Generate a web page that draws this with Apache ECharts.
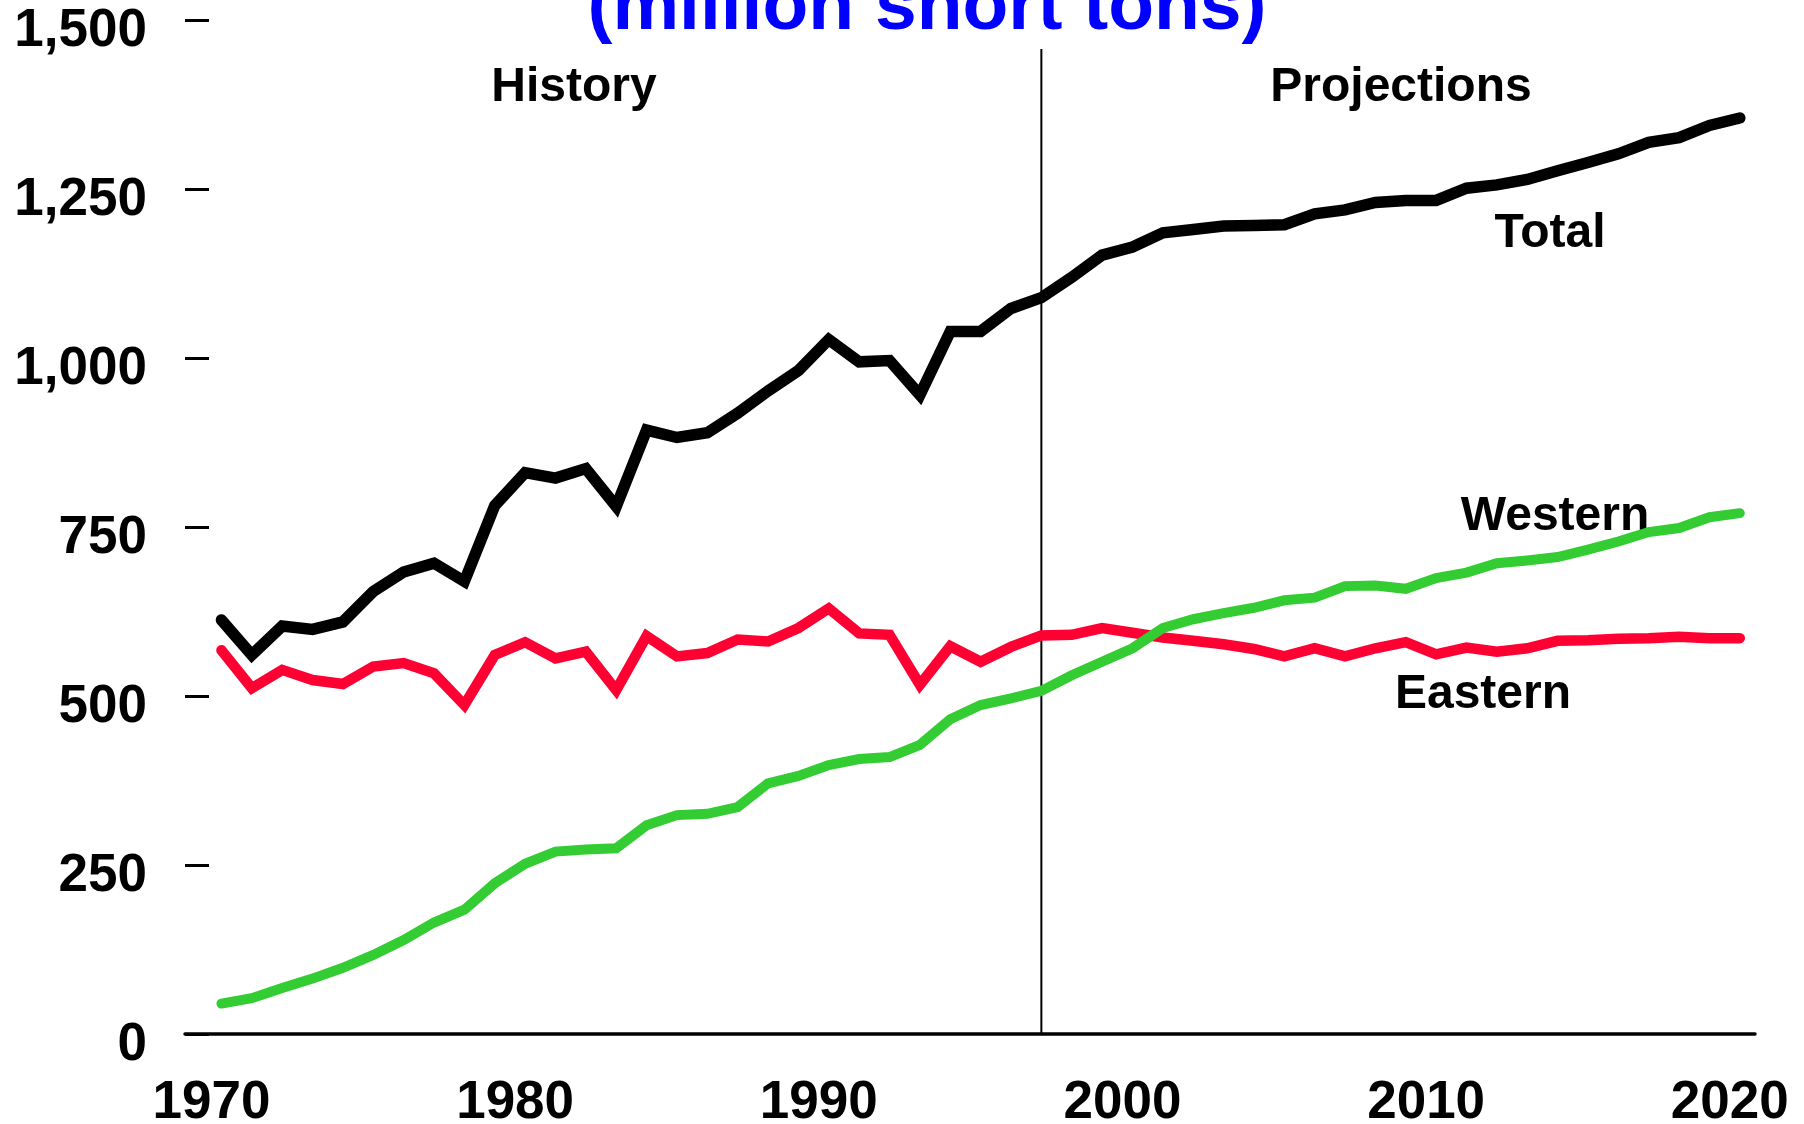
<!DOCTYPE html>
<html>
<head>
<meta charset="utf-8">
<title>Coal production by region</title>
<script src="https://cdn.jsdelivr.net/npm/echarts@6/dist/echarts.min.js"></script>
<style>
  html, body { margin: 0; padding: 0; background: #fff; }
  #main { width: 1804px; height: 1124px; }
</style>
</head>
<body>
<div id="main"></div>
<script>
// years 1970-1997 history, 1998-2020 projections
var years = [1970, 1971, 1972, 1973, 1974, 1975, 1976, 1977, 1978, 1979,
  1980, 1981, 1982, 1983, 1984, 1985, 1986, 1987, 1988, 1989,
  1990, 1991, 1992, 1993, 1994, 1995, 1996, 1997, 1998, 1999,
  2000, 2001, 2002, 2003, 2004, 2005, 2006, 2007, 2008, 2009,
  2010, 2011, 2012, 2013, 2014, 2015, 2016, 2017, 2018, 2019, 2020];

var total = [613, 561, 604, 599, 610, 655, 684, 697, 670, 782,
  831, 823, 837, 781, 894, 883, 890, 919, 952, 982,
  1028, 995, 997, 946, 1040, 1040, 1074, 1090, 1120, 1153,
  1165, 1186, 1191, 1196, 1197, 1198, 1214, 1220, 1231, 1234,
  1234, 1252, 1257, 1265, 1278, 1290, 1303, 1320, 1327, 1345, 1356];

var western = [45, 53, 68, 82, 98, 117, 139, 165, 184, 223,
  252, 270, 273, 275, 309, 324, 326, 336, 371, 382,
  398, 407, 410, 428, 466, 487, 497, 508, 531, 551,
  571, 601, 614, 623, 631, 642, 646, 663, 664, 659,
  675, 683, 697, 701, 706, 717, 729, 743, 749, 765, 771];

var eastern = [568, 512, 539, 524, 518, 544, 549, 534, 487, 561,
  580, 556, 566, 509, 589, 559, 564, 584, 581, 601,
  630, 593, 591, 517, 574, 551, 573, 590, 591, 601,
  594, 587, 582, 577, 570, 559, 571, 559, 571, 580,
  562, 572, 566, 571, 582, 583, 585, 586, 588, 586, 586];

var xLabels = [1970, 1980, 1990, 2000, 2010, 2020];
var splitYear = 1997;   // history / projections divider
var dividerTop = 1458;

var FONT = "'Liberation Sans', Arial, Helvetica, sans-serif";

function pairs(vals) {
  return years.map(function (y, i) { return [y, vals[i]]; });
}

function lineSeries(name, vals, color, width) {
  return {
    name: name,
    type: 'line',
    data: pairs(vals),
    showSymbol: false,
    symbol: 'none',
    silent: true,
    lineStyle: { color: color, width: width, cap: 'round', join: 'miter' }
  };
}

function txt(text, x, y, size, color) {
  return {
    type: 'text',
    x: x,
    y: y,
    silent: true,
    style: {
      text: text,
      fill: color || '#000',
      font: 'bold ' + size + 'px ' + FONT,
      align: 'center',
      verticalAlign: 'middle'
    }
  };
}

var chart = echarts.init(document.getElementById('main'));

var option = {
  backgroundColor: '#fff',
  animation: false,
  grid: {
    left: 185,
    right: 49,
    top: 20.7,
    bottom: 90,
    containLabel: false,
    outerBoundsMode: 'none'
  },
  xAxis: {
    type: 'value',
    min: 1968.8,
    max: 2020.5,
    axisLine: { show: true, lineStyle: { color: '#000', width: 3.5 } },
    axisTick: { show: false },
    splitLine: { show: false },
    axisLabel: {
      customValues: xLabels,
      margin: 43,
      padding: [0, 20, 0, 0],
      color: '#000',
      fontFamily: FONT,
      fontWeight: 'bold',
      fontSize: 53,
      lineHeight: 53,
      formatter: function (v) { return String(Math.round(v)); }
    }
  },
  yAxis: {
    type: 'value',
    min: 0,
    max: 1500,
    interval: 250,
    axisLine: { show: false },
    axisTick: {
      show: true,
      inside: true,
      length: 24,
      lineStyle: { color: '#000', width: 3 }
    },
    splitLine: { show: false },
    axisLabel: {
      margin: 38,
      verticalAlign: 'top',
      lineHeight: 22,
      color: '#000',
      fontFamily: FONT,
      fontWeight: 'bold',
      fontSize: 53,
      formatter: function (v) { return v.toLocaleString('en-US'); }
    }
  },
  series: [
    {
      name: 'divider',
      type: 'line',
      data: [[splitYear, 0], [splitYear, dividerTop]],
      showSymbol: false,
      symbol: 'none',
      silent: true,
      lineStyle: { color: '#000', width: 2 }
    },
    lineSeries('Eastern', eastern, '#FF0033', 10.5),
    lineSeries('Western', western, '#33CC33', 10),
    lineSeries('Total', total, '#000000', 11.5)
  ],
  graphic: [
    txt('(million short tons)', 927, 8, 75, '#0000FF'),
    txt('History', 574, 88, 48),
    txt('Projections', 1401, 88, 48),
    txt('Total', 1550, 234, 48),
    txt('Western', 1555, 517, 48),
    txt('Eastern', 1483, 695, 48)
  ]
};

chart.setOption(option);
</script>
</body>
</html>
